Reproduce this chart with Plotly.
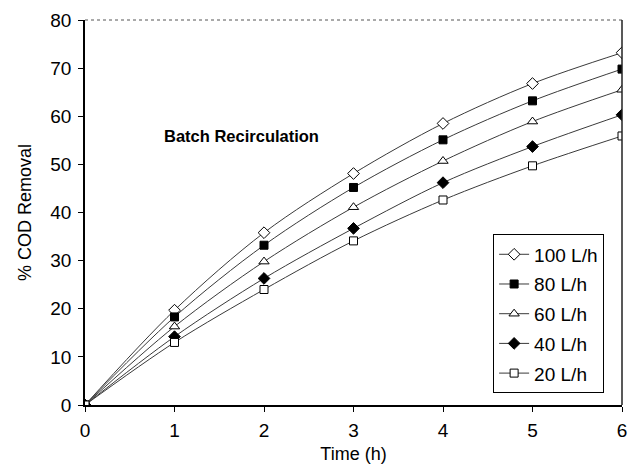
import plotly.graph_objects as go

time_h = [0, 1, 2, 3, 4, 5, 6]
series_names = ["100 L/h", "80 L/h", "60 L/h", "40 L/h", "20 L/h"]
cod_100 = [0, 19.7, 35.8, 48.1, 58.5, 66.8, 73.2]
cod_80 = [0, 18.3, 33.2, 45.2, 55.1, 63.2, 69.8]
cod_60 = [0, 16.3, 29.8, 41.1, 50.7, 58.9, 65.5]
cod_40 = [0, 14.2, 26.3, 36.7, 46.2, 53.7, 60.3]
cod_20 = [0, 13.0, 24.0, 34.1, 42.6, 49.7, 55.9]

values = [cod_100, cod_80, cod_60, cod_40, cod_20]
symbols = ["diamond", "square", "triangle-up", "diamond", "square"]
fills = ["white", "black", "white", "black", "white"]
sizes = [9, 8, 9, 9, 8]

FONT = "Liberation Sans, Arial, sans-serif"

fig = go.Figure()
for name, ys, sym, fc, sz in zip(series_names, values, symbols, fills, sizes):
    fig.add_trace(go.Scatter(
        x=time_h, y=ys, name=name, legendgroup=name,
        mode="lines+markers",
        line=dict(color="#3a3a3a", width=1, shape="spline", smoothing=0.9),
        marker=dict(symbol=sym, size=sz, color=fc, line=dict(color="black", width=1)),
    ))

fig.add_annotation(x=0.86, y=56.0, text="<b>Batch Recirculation</b>", showarrow=False,
                   xanchor="left", yanchor="middle", font=dict(size=16.5, color="black", family=FONT))

# frame: dotted top, solid right
fig.add_shape(type="line", xref="paper", yref="paper", x0=0, x1=1, y0=1, y1=1,
              line=dict(color="#555", width=1, dash="dot"))
fig.add_shape(type="line", xref="paper", yref="paper", x0=1, x1=1, y0=0, y1=1,
              line=dict(color="#222", width=1.5))

fig.update_layout(
    width=635, height=471,
    margin=dict(l=85, r=8, t=20, b=66),
    paper_bgcolor="white", plot_bgcolor="white",
    font=dict(family=FONT, color="black"),
    showlegend=True,
    legend=dict(x=0.76, y=0.443, xanchor="left", yanchor="top",
                bordercolor="black", borderwidth=1, bgcolor="white",
                font=dict(size=19, family=FONT), tracegroupgap=2,
                itemwidth=30),
    xaxis=dict(range=[0, 6], tickvals=[0, 1, 2, 3, 4, 5, 6], showgrid=False, zeroline=False,
               showline=True, linecolor="black", linewidth=1.5, ticks="outside", ticklen=5,
               tickcolor="black", tickfont=dict(size=19), ticklabelstandoff=2,
               title=dict(text="Time (h)", font=dict(size=18), standoff=8)),
    yaxis=dict(range=[0, 80], tickvals=list(range(0, 81, 10)), showgrid=False, zeroline=False,
               showline=True, linecolor="black", linewidth=1.5, ticks="outside", ticklen=5,
               tickcolor="black", tickfont=dict(size=19), ticklabelstandoff=3,
               title=dict(text="% COD Removal", font=dict(size=18), standoff=14)),
)

fig.write_html("out.html")
